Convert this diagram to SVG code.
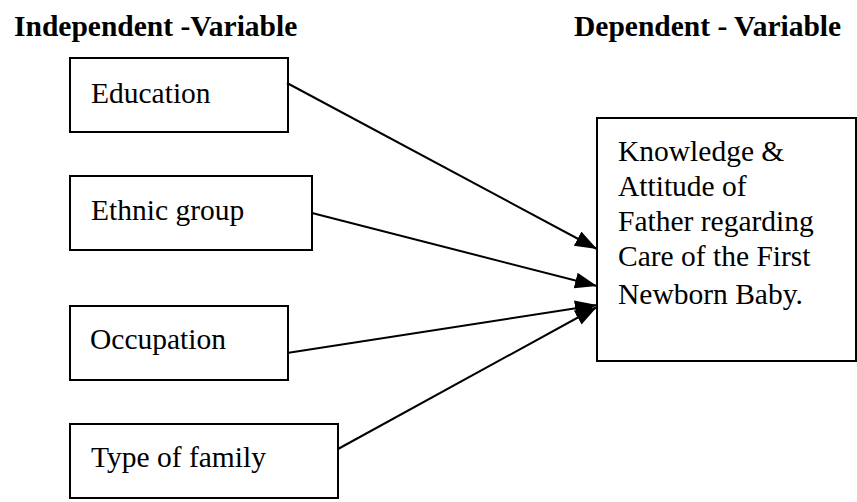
<svg xmlns="http://www.w3.org/2000/svg" width="857" height="502" viewBox="0 0 857 502">
<style>
.box{fill:#fff;stroke:#000;stroke-width:2}
.t{font-family:"Liberation Serif","Times New Roman",serif;font-size:29.5px;fill:#000}
.h{font-family:"Liberation Serif","Times New Roman",serif;font-size:29.5px;font-weight:bold;fill:#000}
.c{stroke:#000;stroke-width:2;fill:none;marker-end:url(#ah)}
</style>
<defs>
<marker id="ah" markerUnits="userSpaceOnUse" markerWidth="24" markerHeight="18" refX="22" refY="8" orient="auto">
<path d="M0,0 L22,8 L0,16 z" fill="#000"/>
</marker>
</defs>
<g id="headers">
<text class="h" x="14" y="36">Independent -Variable</text>
<text class="h" x="574" y="36">Dependent - Variable</text>
</g>
<g id="education"><rect class="box" x="70" y="58" width="218" height="74"/><text class="t" x="91" y="103">Education</text></g>
<g id="ethnic"><rect class="box" x="70" y="176" width="242" height="74"/><text class="t" x="91" y="220">Ethnic group</text></g>
<g id="occupation"><rect class="box" x="70" y="306" width="218" height="74"/><text class="t" x="90" y="349">Occupation</text></g>
<g id="family"><rect class="box" x="70" y="424" width="268" height="74"/><text class="t" x="91" y="467">Type of family</text></g>
<g id="outcome"><rect class="box" x="597" y="118" width="259" height="243"/>
<text class="t" x="618" y="161">Knowledge &amp;</text>
<text class="t" x="618" y="196">Attitude of</text>
<text class="t" x="618" y="231">Father regarding</text>
<text class="t" x="618" y="266">Care of the First</text>
<text class="t" x="618" y="304">Newborn Baby.</text>
</g>
<g id="connectors">
<line class="c" x1="287" y1="83" x2="597" y2="249"/>
<line class="c" x1="312" y1="213" x2="597" y2="286"/>
<line class="c" x1="287" y1="353" x2="597" y2="305"/>
<line class="c" x1="338" y1="449" x2="597" y2="307"/>
</g>
</svg>
